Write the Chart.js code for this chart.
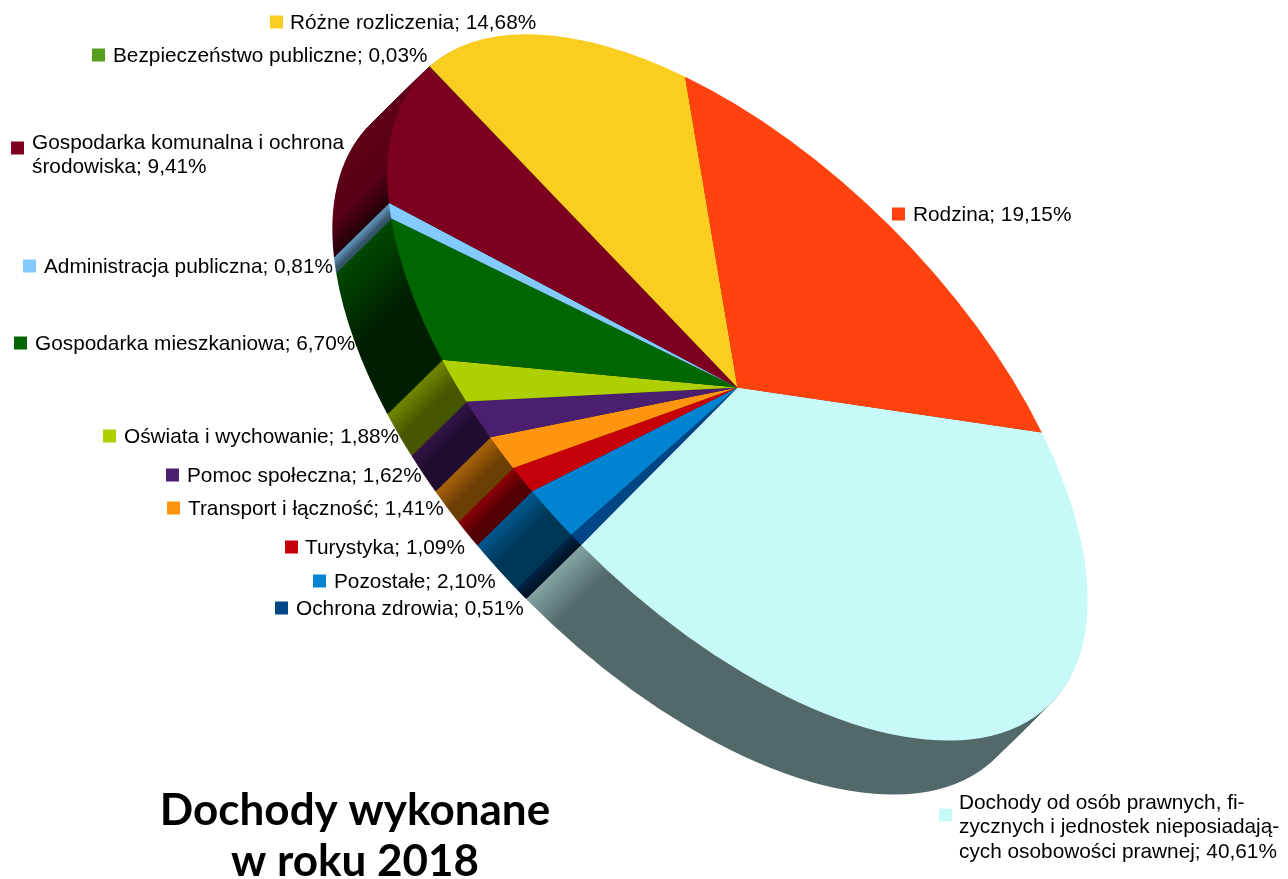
<!DOCTYPE html>
<html lang="pl">
<head>
<meta charset="utf-8">
<title>Dochody wykonane w roku 2018</title>
<script src="https://cdn.jsdelivr.net/npm/chart.js@4"></script>
<style>html,body{margin:0;padding:0;background:#fff}canvas{display:block}</style>
</head>
<body>
<canvas id="c" width="1288" height="879"></canvas>
<script>
const categories = [
  "Dochody od osób prawnych, fi-\nzycznych i jednostek nieposiadają-\ncych osobowości prawnej",
  "Ochrona zdrowia", "Pozostałe", "Turystyka", "Transport i łączność",
  "Pomoc społeczna", "Oświata i wychowanie", "Gospodarka mieszkaniowa",
  "Administracja publiczna", "Gospodarka komunalna i ochrona\nśrodowiska",
  "Bezpieczeństwo publiczne", "Różne rozliczenia", "Rodzina"
];
const values = [40.61, 0.51, 2.10, 1.09, 1.41, 1.62, 1.88, 6.70, 0.81, 9.41, 0.03, 14.68, 19.15];
const colors = ["#C6F9F8","#004586","#0084D1","#C5000B","#FF950E","#4B1F6F","#AECF00","#006600","#83CAFF","#7E0021","#579D1C","#F9CE20","#FF420E"];
const titleLines = ["Dochody wykonane", "w roku 2018"];

// label layout: marker left, marker centre y, text left, text centre y
const labelPos = [
  [939,815,959,827.5],[275,608,296,609],[313,581,334,582],[285,547,305,548],[167,508,188,509],
  [166,475,187,476],[103,436,124,437],[14,343,35,344],[23,266,44,267],[11,148,32,155],
  [92,55,113,56],[270,22,290,23],[892,214,913,215]
];
// side wall shading: gradient length (px) and [stop, brightness]
const sideShade = [
  [40,[[0,.66],[1,.42]]],[14,[[0,.55],[1,.25]]],[28,[[0,.68],[1,.42]]],[18,[[0,.72],[1,.42]]],
  [24,[[0,.66],[1,.42]]],[18,[[0,.66],[1,.44]]],[26,[[0,.66],[1,.42]]],[70,[[0,.72],[1,.3]]],
  [10,[[0,.8],[1,.42]]],[72,[[0,.75],[.6,.7],[1,.22]]],[5,[[0,.6],[1,.4]]],[40,[[0,.6],[1,.42]]],[40,[[0,.6],[1,.42]]]
];
const ellipse = {cx:737.5, cy:387.5, a:445, b:222, theta:45.4*Math.PI/180, dx:-55, dy:54, layers:78};

function shade(hex,f){
  const n=parseInt(hex.slice(1),16);
  return `rgb(${((n>>16)&255)*f|0},${((n>>8)&255)*f|0},${(n&255)*f|0})`;
}
function applyTilt(ctx,arc){
  const R=arc.outerRadius;
  ctx.translate(ellipse.cx,ellipse.cy);
  ctx.rotate(ellipse.theta);
  ctx.scale(ellipse.a/R,ellipse.b/R);
  ctx.translate(-arc.x,-arc.y);
}
const tiltPlugin = {
  id:'tilt',
  beforeDatasetsDraw(chart){
    const ctx=chart.ctx, arcs=chart.getDatasetMeta(0).data;
    const first=arcs[0], R=first.outerRadius, sx=ellipse.a/R;
    const fills=arcs.map((arc,i)=>{
      const x0=arc.x+R*Math.cos(arc.endAngle);
      const [len,stops]=sideShade[i];
      const g=ctx.createLinearGradient(x0,0,x0+len/sx,0);
      stops.forEach(([p,f])=>g.addColorStop(p,shade(colors[i],f)));
      return g;
    });
    for(let k=ellipse.layers;k>=1;k--){
      ctx.save();
      ctx.translate(ellipse.dx*k/ellipse.layers,ellipse.dy*k/ellipse.layers);
      applyTilt(ctx,first);
      arcs.forEach((arc,i)=>{
        const saved=arc.options, o=Object.create(saved);
        Object.defineProperty(o,'backgroundColor',{value:fills[i]});
        arc.options=o; arc.draw(ctx); arc.options=saved;
      });
      ctx.restore();
    }
    ctx.save();
    applyTilt(ctx,first);
  },
  afterDatasetsDraw(chart){ chart.ctx.restore(); },
  afterDraw(chart){
    const ctx=chart.ctx;
    ctx.save();
    ctx.textBaseline='middle'; ctx.textAlign='left';
    ctx.font='20.8px "Liberation Sans"';
    categories.forEach((name,i)=>{
      const [mx,my,tx,ty]=labelPos[i];
      const text=name+'; '+values[i].toFixed(2).replace('.',',')+'%';
      const lines=text.split('\n');
      ctx.fillStyle=colors[i];
      ctx.fillRect(mx,my-6.5,13,13);
      ctx.fillStyle='#000';
      const h=24.3, y0=ty-(lines.length-1)*h/2;
      lines.forEach((l,j)=>ctx.fillText(l,tx,y0+j*h));
    });
    ctx.fillStyle='#000'; ctx.textAlign='center'; ctx.textBaseline='alphabetic';
    ctx.font='bold 44px Lato';
    titleLines.forEach((l,j)=>ctx.fillText(l,355,825+j*51));
    ctx.restore();
  }
};
new Chart(document.getElementById('c'),{
  type:'pie',
  data:{labels:categories,datasets:[{data:values,backgroundColor:colors,borderWidth:0}]},
  options:{
    responsive:false,animation:false,rotation:33.5,
    layout:{padding:0},
    plugins:{legend:{display:false},tooltip:{enabled:false},title:{display:false,text:titleLines}}
  },
  plugins:[tiltPlugin]
});
</script>
</body>
</html>
